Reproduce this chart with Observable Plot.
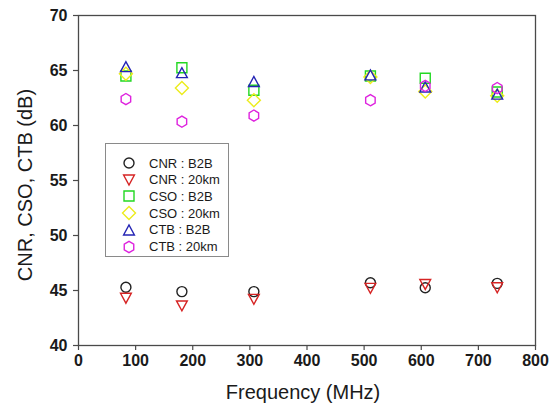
<!DOCTYPE html>
<html><head><meta charset="utf-8">
<script src="https://cdn.jsdelivr.net/npm/d3@7"></script>
<script src="https://cdn.jsdelivr.net/npm/@observablehq/plot@0.6"></script>
<style>
body{margin:0;background:#fff;}
#wrap{position:relative;width:555px;height:405px;font-family:"Liberation Sans",Arial,sans-serif;color:#1a1a1a;}
.ttl{position:absolute;white-space:nowrap;font-size:20px;line-height:1;}
#legend{position:absolute;left:105px;top:143px;width:122px;height:112px;border:1px solid #8a8a8a;background:#fff;}
.row{position:absolute;left:0;height:16px;display:flex;align-items:center;font-size:13px;}
.row svg{position:absolute;left:15px;}
.row span{position:absolute;left:43px;white-space:nowrap;}
</style></head><body><div id="wrap"></div>
<script>
// ---- data ----
const freq = [83, 181, 307, 511, 607, 733];
const cnrB2B  = [45.3, 44.9, 44.9, 45.7, 45.25, 45.65];
const cnr20km = [44.3, 43.6, 44.2, 45.2, 45.55, 45.25];
const csoB2B  = [64.5, 65.25, 63.2, 64.5, 64.3, 63.05];
const cso20km = [64.7, 63.4, 62.3, 64.4, 63.1, 62.7];
const ctbB2B  = [65.35, 64.8, 64.0, 64.6, 63.5, 62.85];
const ctb20km = [62.4, 60.35, 60.9, 62.3, 63.6, 63.4];
const seriesNames = ["CNR : B2B", "CNR : 20km", "CSO : B2B", "CSO : 20km", "CTB : B2B", "CTB : 20km"];
const seriesValues = [cnrB2B, cnr20km, csoB2B, cso20km, ctbB2B, ctb20km];
const seriesColors = ["#222222", "#d62424", "#22d822", "#ecec1c", "#2424b4", "#de22de"];
const xTicks = [0, 100, 200, 300, 400, 500, 600, 700, 800];
const yTicks = [40, 45, 50, 55, 60, 65, 70];

// ---- symbols ----
const R = s => Math.sqrt(s / Math.PI);
const symbols = [
  {draw(c, s){const r = R(s); c.moveTo(r, 0); c.arc(0, 0, r, 0, 2*Math.PI); c.closePath();}},
  {draw(c, s){const r = R(s)*1.08, h = r*0.92; c.moveTo(-r, -h); c.lineTo(r, -h); c.lineTo(0, h); c.closePath();}},
  {draw(c, s){const r = R(s)*1.0; c.moveTo(-r, -r); c.lineTo(r, -r); c.lineTo(r, r); c.lineTo(-r, r); c.closePath();}},
  {draw(c, s){const r = R(s)*1.3; c.moveTo(0, -r); c.lineTo(r, 0); c.lineTo(0, r); c.lineTo(-r, 0); c.closePath();}},
  {draw(c, s){const r = R(s)*1.08, h = r*0.92; c.moveTo(-r, h); c.lineTo(r, h); c.lineTo(0, -h); c.closePath();}},
  {draw(c, s){const rx = R(s)*0.95, ry = rx*1.18, hy = ry/2; c.moveTo(0, ry); c.lineTo(rx, hy); c.lineTo(rx, -hy); c.lineTo(0, -ry); c.lineTo(-rx, -hy); c.lineTo(-rx, hy); c.closePath();}}
];

const rows = [];
seriesNames.forEach((name, i) => freq.forEach((f, j) => rows.push({series: i, f, v: seriesValues[i][j]})));

const marks = [
  Plot.frame({stroke: "#4a4a4a", strokeWidth: 1.3}),
  Plot.axisX({ticks: xTicks, tickSize: 5, tickPadding: 4, tickFormat: d3.format("d"), fontSize: 16, fontWeight: "bold", stroke: "#4a4a4a", strokeWidth: 1.2, label: null}),
  Plot.axisY({ticks: yTicks, tickSize: 5, tickPadding: 6, tickFormat: d3.format("d"), fontSize: 16, fontWeight: "bold", stroke: "#4a4a4a", strokeWidth: 1.2, label: null}),
  ...seriesNames.map((n, i) => Plot.dot(rows.filter(d => d.series === i), {x: "f", y: "v", r: 5, symbol: symbols[i], stroke: seriesColors[i], strokeWidth: 1.4, fill: "none"}))
];

const chart = Plot.plot({
  width: 555, height: 405,
  marginLeft: 78, marginRight: 20, marginTop: 15, marginBottom: 60,
  x: {domain: [0, 800]},
  y: {domain: [40, 70]},
  style: {fontFamily: "Liberation Sans, Arial, sans-serif", color: "#1a1a1a", background: "#fff"},
  marks
});
const wrap = document.getElementById("wrap");
wrap.appendChild(chart);

// titles
const xt = document.createElement("div");
xt.className = "ttl"; xt.textContent = "Frequency (MHz)";
xt.style.left = "303px"; xt.style.top = "392px"; xt.style.transform = "translate(-50%,-50%)";
wrap.appendChild(xt);
const yt = document.createElement("div");
yt.className = "ttl"; yt.textContent = "CNR, CSO, CTB (dB)";
yt.style.left = "25px"; yt.style.top = "185px"; yt.style.transform = "translate(-50%,-50%) rotate(-90deg)";
wrap.appendChild(yt);

// legend
const lg = document.createElement("div"); lg.id = "legend"; wrap.appendChild(lg);
seriesNames.forEach((name, i) => {
  const row = document.createElement("div"); row.className = "row";
  row.style.top = (11 + i*16.7) + "px";
  const svg = d3.create("svg").attr("width", 16).attr("height", 16).attr("viewBox", "-8 -8 16 16");
  svg.append("path").attr("d", d3.symbol(symbols[i], 25*Math.PI)()).attr("fill", "none").attr("stroke", seriesColors[i]).attr("stroke-width", 1.4);
  row.appendChild(svg.node());
  const sp = document.createElement("span"); sp.textContent = name; row.appendChild(sp);
  lg.appendChild(row);
});
</script></body></html>
